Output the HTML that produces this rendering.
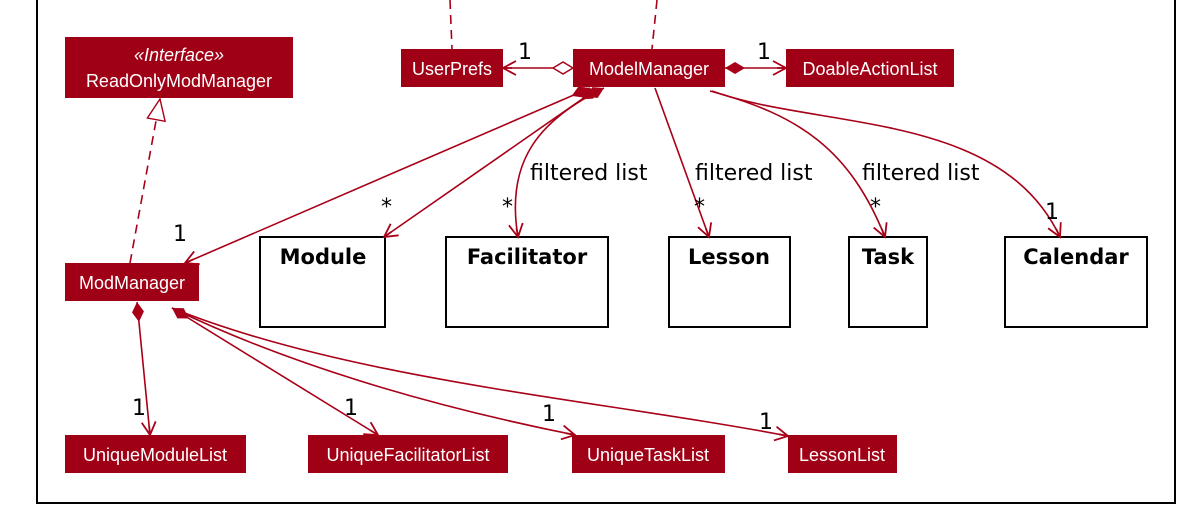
<!DOCTYPE html>
<html><head><meta charset="utf-8"><style>
html,body{margin:0;padding:0;background:#fff;width:1188px;height:521px;overflow:hidden}
svg{display:block}
.t{font-family:"Liberation Sans",sans-serif;font-size:18px;fill:#fff}
.b{font-family:"DejaVu Sans","Liberation Sans",sans-serif;font-size:21px;font-weight:bold;fill:#000}
.l{font-family:"DejaVu Sans","Liberation Sans",sans-serif;font-size:22px;fill:#000}
.e{stroke:#A80018;stroke-width:1.6;fill:none}
</style></head><body>
<svg width="1188" height="521" viewBox="0 0 1188 521">
<defs>
<marker id="a" markerWidth="16" markerHeight="16" refX="14" refY="8" orient="auto" markerUnits="userSpaceOnUse">
<path d="M1,1 L14,8 L1,15 M14,8 L5,8" stroke="#A80018" stroke-width="1.8" fill="none"/></marker>
<marker id="fd" markerWidth="24" markerHeight="14" refX="1" refY="7" orient="auto" markerUnits="userSpaceOnUse">
<path d="M1,7 L11,1 L21,7 L11,13 Z" fill="#A80018"/></marker>
<marker id="hd" markerWidth="24" markerHeight="14" refX="1" refY="7" orient="auto" markerUnits="userSpaceOnUse">
<path d="M1,7 L11,1 L21,7 L11,13 Z" fill="#fff" stroke="#A80018" stroke-width="1.4"/></marker>
<marker id="tri" markerWidth="24" markerHeight="24" refX="22" refY="11" orient="auto" markerUnits="userSpaceOnUse">
<path d="M1,2 L22,11 L1,20 Z" fill="#fff" stroke="#A80018" stroke-width="1.4"/></marker>
</defs>
<rect x="37" y="-5" width="1138" height="508" fill="none" stroke="#000" stroke-width="2"/>
<line x1="450" y1="0" x2="452" y2="49" class="e" stroke-dasharray="9,6"/>
<line x1="657" y1="0" x2="652" y2="49" class="e" stroke-dasharray="9,6"/>
<g fill="#A00015">
<rect x="65" y="37" width="228" height="61"/>
<rect x="401" y="49" width="102" height="38"/>
<rect x="573" y="49" width="152" height="38"/>
<rect x="786" y="49" width="168" height="38"/>
<rect x="65" y="263" width="134" height="38"/>
<rect x="65" y="435" width="181" height="38"/>
<rect x="308" y="435" width="200" height="38"/>
<rect x="572" y="435" width="153" height="38"/>
<rect x="788" y="435" width="109" height="38"/>
</g>
<text class="t" x="179" y="61" text-anchor="middle" font-style="italic" font-size="16">«Interface»</text>
<text class="t" x="179" y="87" text-anchor="middle">ReadOnlyModManager</text>
<text class="t" x="452" y="75" text-anchor="middle">UserPrefs</text>
<text class="t" x="649" y="75" text-anchor="middle">ModelManager</text>
<text class="t" x="870" y="75" text-anchor="middle">DoableActionList</text>
<text class="t" x="132" y="289" text-anchor="middle">ModManager</text>
<text class="t" x="155" y="461" text-anchor="middle">UniqueModuleList</text>
<text class="t" x="408" y="461" text-anchor="middle">UniqueFacilitatorList</text>
<text class="t" x="648" y="461" text-anchor="middle">UniqueTaskList</text>
<text class="t" x="842" y="461" text-anchor="middle">LessonList</text>
<g fill="#fff" stroke="#000" stroke-width="2">
<rect x="260" y="237" width="125" height="90"/>
<rect x="446" y="237" width="162" height="90"/>
<rect x="669" y="237" width="121" height="90"/>
<rect x="849" y="237" width="78" height="90"/>
<rect x="1005" y="237" width="142" height="90"/>
</g>
<text class="b" x="323" y="264" text-anchor="middle">Module</text>
<text class="b" x="527" y="264" text-anchor="middle">Facilitator</text>
<text class="b" x="729" y="264" text-anchor="middle">Lesson</text>
<text class="b" x="888" y="264" text-anchor="middle">Task</text>
<text class="b" x="1076" y="264" text-anchor="middle">Calendar</text>
<line x1="573" y1="68" x2="503" y2="68" class="e" marker-start="url(#hd)" marker-end="url(#a)"/>
<line x1="725" y1="68" x2="786" y2="68" class="e" marker-start="url(#fd)" marker-end="url(#a)"/>
<line x1="130" y1="263" x2="160" y2="99" class="e" stroke-dasharray="9,6" marker-end="url(#tri)"/>
<line x1="590" y1="88" x2="185" y2="263" class="e" marker-start="url(#fd)" marker-end="url(#a)"/>
<line x1="598" y1="88" x2="384" y2="237" class="e" marker-start="url(#fd)" marker-end="url(#a)"/>
<path d="M604,88 C540,120 505,160 518,237" class="e" marker-start="url(#fd)" marker-end="url(#a)"/>
<line x1="655" y1="88" x2="709" y2="237" class="e" marker-end="url(#a)"/>
<path d="M710,91 C800,115 850,150 885,237" class="e" marker-end="url(#a)"/>
<path d="M712,91 C820,130 1000,110 1060,237" class="e" marker-end="url(#a)"/>
<line x1="137" y1="302" x2="150" y2="435" class="e" marker-start="url(#fd)" marker-end="url(#a)"/>
<line x1="172" y1="308" x2="378" y2="435" class="e" marker-start="url(#fd)" marker-end="url(#a)"/>
<path d="M172,308 C300,370 450,410 575,435" class="e" marker-end="url(#a)"/>
<path d="M172,308 C350,380 600,400 788,436" class="e" marker-end="url(#a)"/>
<text class="l" x="518" y="59">1</text>
<text class="l" x="757" y="59">1</text>
<text class="l" x="173" y="241">1</text>
<text class="l" x="381" y="214" font-size="17">*</text>
<text class="l" x="502" y="214" font-size="17">*</text>
<text class="l" x="694" y="214" font-size="17">*</text>
<text class="l" x="870" y="214" font-size="17">*</text>
<text class="l" x="1045" y="219">1</text>
<text class="l" x="530" y="180">filtered list</text>
<text class="l" x="695" y="180">filtered list</text>
<text class="l" x="862" y="180">filtered list</text>
<text class="l" x="132" y="415">1</text>
<text class="l" x="344" y="415">1</text>
<text class="l" x="542" y="421">1</text>
<text class="l" x="759" y="429">1</text>
</svg>
</body></html>
